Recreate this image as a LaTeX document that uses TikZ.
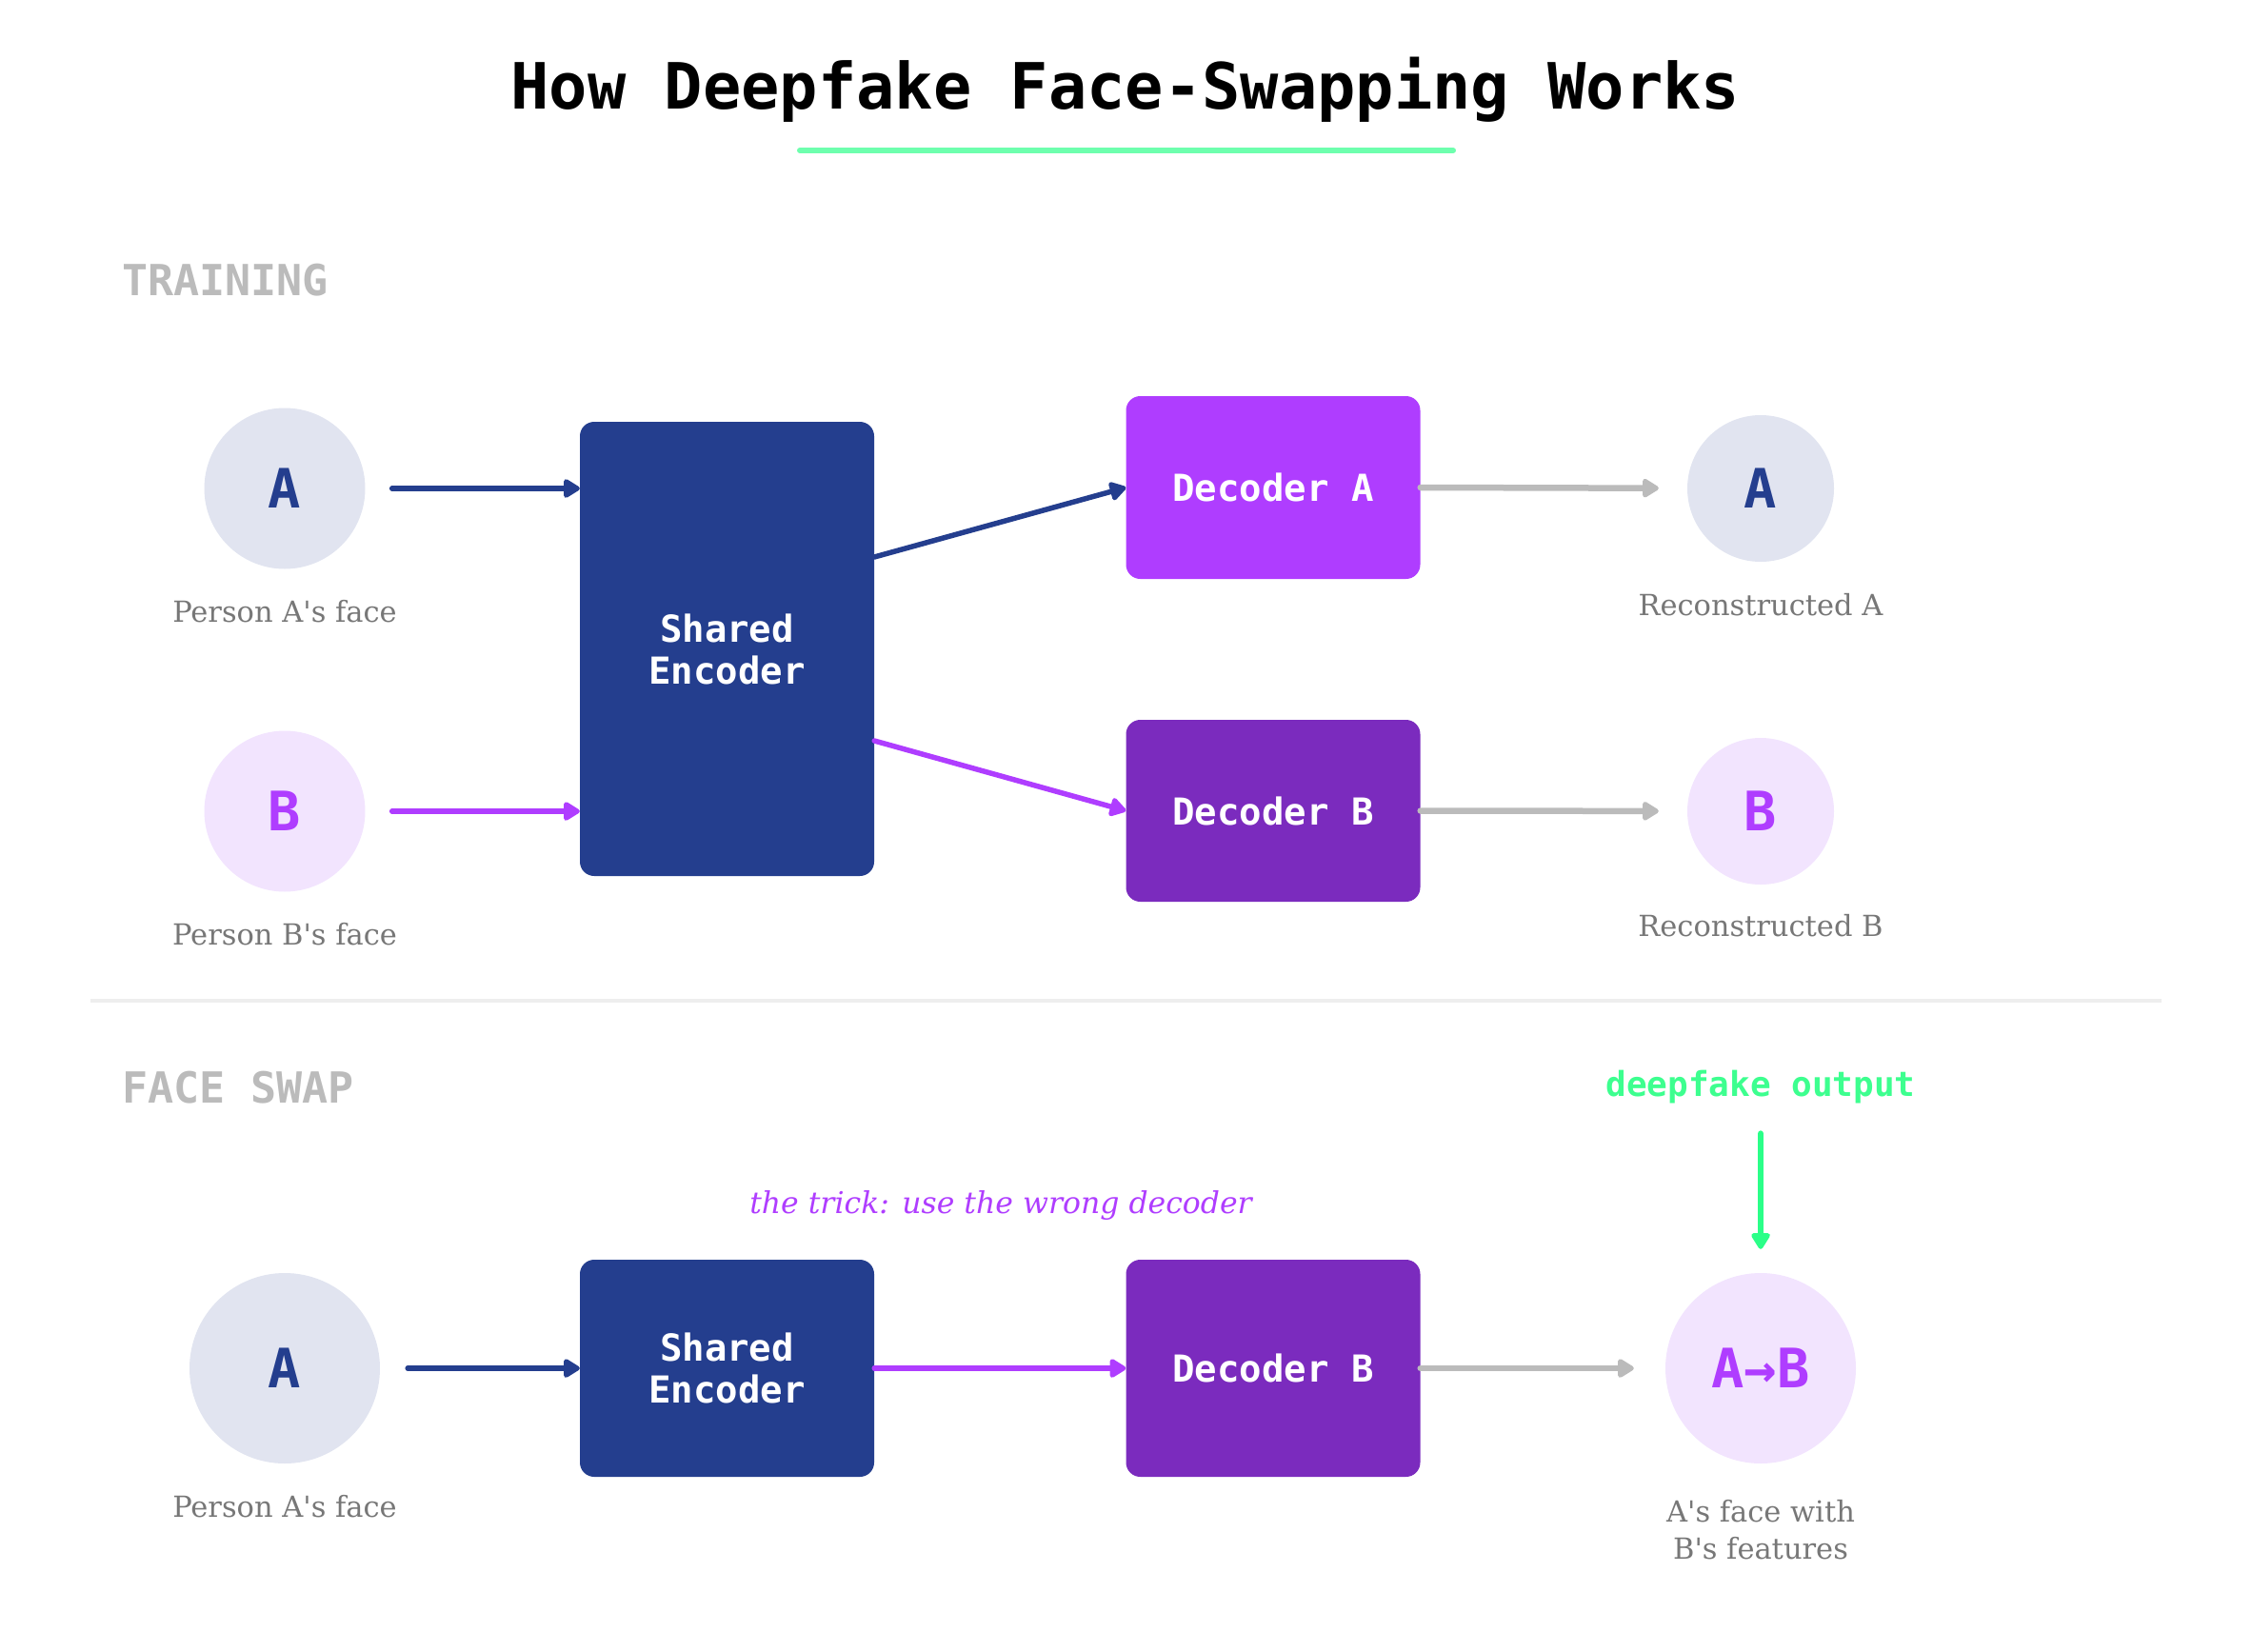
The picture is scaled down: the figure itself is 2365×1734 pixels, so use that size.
\documentclass[tikz,border=0pt]{standalone}
\usepackage{fontspec}
\setmainfont{DejaVu Serif}[Ligatures=TeXOff]
\setmonofont{DejaVu Sans Mono}
\usetikzlibrary{arrows.meta,calc}
\definecolor{navy}{HTML}{243E8E}
\definecolor{vio}{HTML}{AF3DFF}
\definecolor{dvio}{HTML}{7B2BBE}
\definecolor{lgcirc}{HTML}{E1E4F0}
\definecolor{lpcirc}{HTML}{F2E4FE}
\definecolor{garrow}{HTML}{BBBBBB}
\definecolor{capgray}{HTML}{777777}
\definecolor{gtext}{HTML}{3DFF8F}
\definecolor{garr}{HTML}{2BFF88}
\definecolor{uline}{HTML}{6EFFAE}
\definecolor{divline}{HTML}{EEEEEE}
\tikzset{
  blockbox/.style={rounded corners=15pt, minimum width=309pt, text=white, align=center,
    font=\ttfamily\bfseries\fontsize{39}{44}\selectfont, inner sep=0pt},
  facecirc/.style={circle, inner sep=0pt, font=\ttfamily\bfseries\fontsize{57}{60}\selectfont},
  captxt/.style={text=capgray, font=\fontsize{30.5}{39}\selectfont, align=center, inner sep=0pt},
  sectxt/.style={text=garrow, font=\ttfamily\bfseries\fontsize{45}{50}\selectfont, anchor=west, inner sep=0pt},
  tipstyle/.tip={Triangle[length=19pt, width=22pt, round]},
  conn/.style={line width=5.5pt, line cap=round, arrows={-tipstyle}},
}
\begin{document}
\begin{tikzpicture}[x=1pt,y=-1pt]
\useasboundingbox (0,0) rectangle (2365,1734);
% title
\node[inner sep=0pt, font=\ttfamily\bfseries\fontsize{67}{75}\selectfont] (title) at (1182,94) {How Deepfake Face-Swapping Works};
\coordinate (ulA) at (840,158);
\coordinate (ulB) at (1526,158);
\draw[uline, line width=6pt, line cap=round] (ulA) -- (ulB);
% section labels
\node[sectxt] (trainlbl) at (128,294) {TRAINING};
\node[sectxt] (swaplbl) at (128,1142) {FACE SWAP};
% divider
\coordinate (dvA) at (95,1051);
\coordinate (dvB) at (2270,1051);
\draw[divline, line width=4pt] (dvA) -- (dvB);
% training
\node[facecirc, fill=lgcirc, minimum size=169pt, text=navy] (fA) at (299,513) {A};
\node[facecirc, fill=lpcirc, minimum size=169pt, text=vio] (fB) at (299,852) {B};
\node[captxt] (cA) at (299,642) {Person A's face};
\node[captxt] (cB) at (299,981) {Person B's face};
\node[blockbox, fill=navy, minimum height=477pt] (encT) at (763.5,681.5) {Shared\\Encoder};
\node[blockbox, fill=vio, minimum height=192pt] (decA) at (1337,512) {Decoder A};
\node[blockbox, fill=dvio, minimum height=191pt] (decB) at (1337,851.5) {Decoder B};
\node[facecirc, fill=lgcirc, minimum size=154pt, text=navy] (rA) at (1849,513) {A};
\node[facecirc, fill=lpcirc, minimum size=154pt, text=vio] (rB) at (1849,852) {B};
\node[captxt] (crA) at (1849,635) {Reconstructed A};
\node[captxt] (crB) at (1849,972) {Reconstructed B};
\draw[conn, navy, shorten <=28pt] (fA) -- (encT.west |- fA);
\draw[conn, vio, shorten <=28pt] (fB) -- (encT.west |- fB);
\draw[conn, navy] ($(encT.east)+(0,-96.5)$) -- (decA.west);
\draw[conn, vio] ($(encT.east)+(0,96.5)$) -- (decB.west);
\draw[conn, garrow, line width=6.5pt, shorten >=30pt] (decA.east) -- (rA);
\draw[conn, garrow, line width=6.5pt, shorten >=30pt] (decB.east) -- (rB);
% face swap
\node[facecirc, fill=lgcirc, minimum size=200pt, text=navy] (sA) at (299,1437) {A};
\node[captxt] (csA) at (299,1582) {Person A's face};
\node[blockbox, fill=navy, minimum height=228pt] (encS) at (763.5,1437) {Shared\\Encoder};
\node[blockbox, fill=dvio, minimum height=228pt] (decS) at (1337,1437) {Decoder B};
\node[facecirc, fill=lpcirc, minimum size=200pt, text=vio] (out) at (1849,1437) {A→B};
\node[captxt] (cout) at (1849,1607) {A's face with\\B's features};
\node[inner sep=0pt, text=vio, font=\itshape\fontsize{31.5}{36}\selectfont] (trick) at (1051,1266) {the trick: use the wrong decoder};
\node[inner sep=0pt, text=gtext, font=\ttfamily\bfseries\fontsize{36}{40}\selectfont] (dfo) at (1849,1142) {deepfake output};
\draw[conn, navy, shorten <=29pt] (sA) -- (encS.west);
\draw[conn, vio] (encS.east) -- (decS.west);
\draw[conn, garrow, line width=6.5pt, shorten >=33pt] (decS.east) -- (out);
\draw[conn, garr, line width=6.5pt, shorten <=31pt, shorten >=25pt] (dfo.south) -- (out.north);
\end{tikzpicture}
\end{document}
